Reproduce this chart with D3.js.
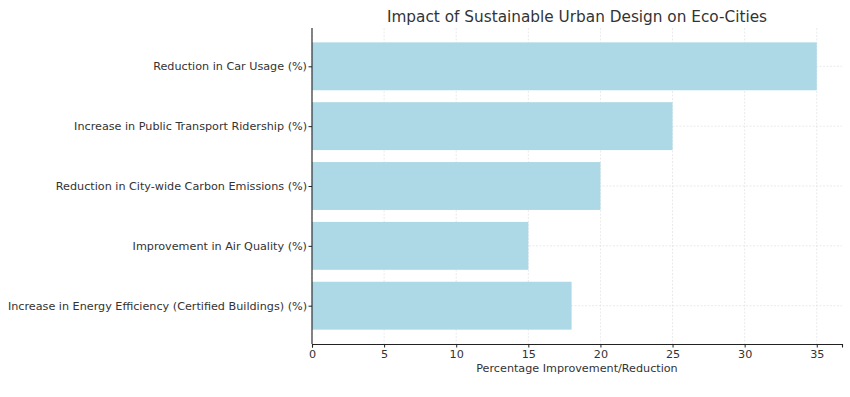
<!DOCTYPE html>
<html>
<head>
<meta charset="utf-8">
<script src="https://cdn.jsdelivr.net/npm/d3@7"></script>
<style>
  body { margin: 0; background: #fff; }
  svg, svg text { font-family: "DejaVu Sans", sans-serif; }
</style>
</head>
<body>
<div id="chart"></div>
<script>
// data
const categories = [
  "Reduction in Car Usage (%)",
  "Increase in Public Transport Ridership (%)",
  "Reduction in City-wide Carbon Emissions (%)",
  "Improvement in Air Quality (%)",
  "Increase in Energy Efficiency (Certified Buildings) (%)"
];
const values = [35, 25, 20, 15, 18];
const xTicks = [0, 5, 10, 15, 20, 25, 30, 35];

const width = 850, height = 397;
const margin = { top: 28, right: 8, bottom: 53, left: 312 };
const innerW = width - margin.left - margin.right;
const innerH = height - margin.top - margin.bottom;

const svg = d3.select('#chart').append('svg')
  .attr('width', width)
  .attr('height', height);

const g = svg.append('g').attr('transform', `translate(${margin.left},${margin.top})`);

// x scale with matplotlib-like 5% margin on the right
const xMax = d3.max(values) * 1.05;
const x = d3.scaleLinear().domain([0, xMax]).range([0, innerW]);

// y: index positions, bars 0.8 wide, 5% padding
const n = categories.length;
const yLo = -0.4 - 0.24, yHi = n - 1 + 0.4 + 0.24;
const y = d3.scaleLinear().domain([yLo, yHi]).range([0, innerH]);

// grid
g.append('g').selectAll('line.vg')
  .data(xTicks)
  .join('line')
  .attr('x1', d => x(d)).attr('x2', d => x(d))
  .attr('y1', 0).attr('y2', innerH)
  .attr('stroke', '#dcdcdc').attr('stroke-width', 0.6)
  .attr('stroke-dasharray', '2,1.5');

g.append('g').selectAll('line.hg')
  .data(categories)
  .join('line')
  .attr('x1', 0).attr('x2', innerW)
  .attr('y1', (d, i) => y(i)).attr('y2', (d, i) => y(i))
  .attr('stroke', '#dcdcdc').attr('stroke-width', 0.6)
  .attr('stroke-dasharray', '2,1.5');

// bars
g.append('g').selectAll('rect')
  .data(values)
  .join('rect')
  .attr('x', x(0))
  .attr('y', (d, i) => y(i - 0.4))
  .attr('width', d => x(d) - x(0))
  .attr('height', y(0.4) - y(-0.4))
  .attr('fill', '#add8e6');

// x axis
const xAxis = g.append('g')
  .attr('transform', `translate(0,${innerH})`)
  .call(d3.axisBottom(x).tickValues(xTicks).tickSize(3.5).tickPadding(3).tickFormat(d3.format('d')));
xAxis.attr('font-family', null);
xAxis.select('.domain').attr('stroke', '#222').attr('stroke-width', 1.1);
xAxis.selectAll('.tick line').attr('stroke', '#222');
xAxis.selectAll('.tick text').attr('fill', '#333').style('font-size', '11.2px');

// y axis
const yAxis = g.append('g')
  .call(d3.axisLeft(y).tickValues(d3.range(n)).tickSize(3.5).tickPadding(1.5)
    .tickFormat(i => categories[i]));
yAxis.attr('font-family', null);
yAxis.select('.domain').attr('stroke', '#222').attr('stroke-width', 1.1)
  .attr('d', `M0,0V${innerH}`);
yAxis.selectAll('.tick line').attr('stroke', '#222');
yAxis.selectAll('.tick text').attr('fill', '#333').style('font-size', '11.2px');

// titles
svg.append('text')
  .attr('x', margin.left + innerW / 2)
  .attr('y', 22)
  .attr('text-anchor', 'middle')
  .attr('fill', '#333')
  .style('font-size', '15.3px')
  .text('Impact of Sustainable Urban Design on Eco-Cities');

svg.append('text')
  .attr('x', margin.left + innerW / 2)
  .attr('y', margin.top + innerH + 28)
  .attr('text-anchor', 'middle')
  .attr('fill', '#333')
  .style('font-size', '11.2px')
  .text('Percentage Improvement/Reduction');
</script>
</body>
</html>
